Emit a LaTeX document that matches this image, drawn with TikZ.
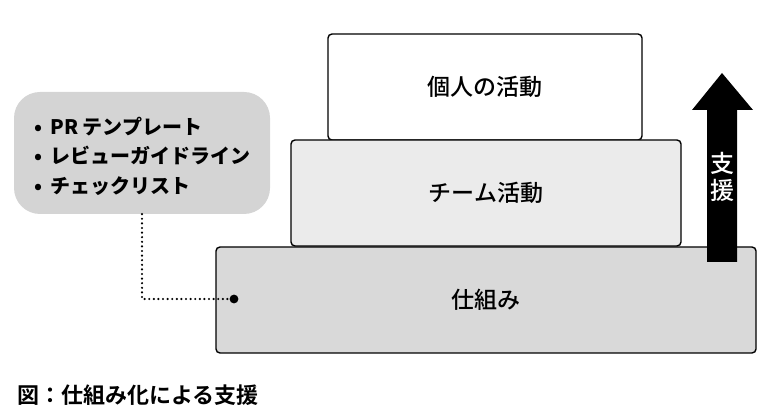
\documentclass[tikz,border=0pt]{standalone}
\usepackage{fontspec}
\setmainfont{Noto Sans CJK JP}[BoldFont={Noto Sans CJK JP Bold}]
\newfontfamily\medfont{Noto Sans CJK JP Medium}
\newfontfamily\heavyfont{Noto Sans CJK JP Black}
\definecolor{basegray}{HTML}{D9D9D9}
\definecolor{teamgray}{HTML}{EBEBEB}
\definecolor{notegray}{HTML}{D4D4D4}
\begin{document}
\begin{tikzpicture}[x=1pt,y=-1pt,
  layer/.style={draw=black,line width=1.4pt,rounded corners=4pt,minimum height=106pt,inner sep=0pt,font=\medfont\fontsize{23}{26}\selectfont},
  note/.style={fill=notegray,rounded corners=26pt,minimum width=256pt,minimum height=122pt,inner sep=0pt}]
\useasboundingbox (0,0) rectangle (768,419);

\node[layer,fill=white,minimum width=314pt] (indiv) at (485,87) {個人の活動};
\node[layer,fill=teamgray,minimum width=390pt] (team) at (486,193) {チーム活動};
\node[layer,fill=basegray,minimum width=540pt] (base) at (486,300) {仕組み};

% arrow
\fill[black] (707,262) -- (707,110) -- (692,110) -- (722,73) -- (753,110)
  -- (737,110) -- (737,262) -- cycle;
\node[text=white,align=center,font=\medfont\fontsize{24}{27}\selectfont] (support) at (722,177) {支\\援};

\node[note] (tools) at (142,153) {};
\node[anchor=west,align=left,font=\heavyfont\fontsize{20}{29.5}\selectfont] (list) at (31,156)
  {•\, PR テンプレート\\•\, レビューガイドライン\\•\, チェックリスト};

\coordinate (dot) at (234,299);
\draw[line width=2.4pt,line cap=round,dash pattern=on 0pt off 4.6pt] (tools.south) |- (dot);
\fill (dot) circle (4.4pt);

\node[anchor=west,font=\bfseries\fontsize{22}{24}\selectfont] (caption) at (14,395) {図：仕組み化による支援};
\end{tikzpicture}
\end{document}
